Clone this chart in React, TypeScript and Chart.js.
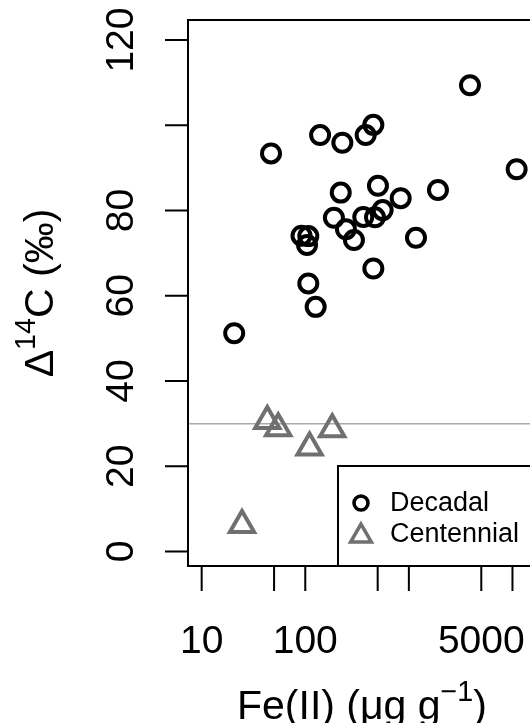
import React, { useEffect, useRef } from "react";
import { Chart, registerables } from "chart.js";

Chart.register(...registerables);

// ---- data ----
const decadalFe = [3890, 46.7, 139, 228, 383, 454, 10970, 220, 503, 834, 1909, 189, 363, 471, 558, 247, 295, 1171, 92, 107, 104, 454, 107, 126, 20.6];
const decadalD14C = [109.4, 93.4, 97.7, 95.9, 97.7, 100.1, 89.7, 84.2, 85.8, 82.9, 84.8, 78.3, 78.5, 78.4, 80.1, 75.6, 73.1, 73.6, 74.1, 74.0, 71.9, 66.4, 62.9, 57.4, 51.2];
const centennialFe = [43, 54.8, 110, 182, 24.5];
const centennialD14C = [30.6, 28.9, 24.4, 28.7, 6.2];

const xTickValues = [10, 50, 100, 500, 1000, 5000, 10000];
const xTickLabels = [10, 100, 5000];
const yTickValues = [0, 20, 40, 60, 80, 100, 120];
const yTickLabels = [0, 20, 40, 60, 80, 120];
const refLine = 30;

const seriesNames = ["Decadal", "Centennial"];
const xTitle = [{ t: "Fe(II) (\u03bcg g" }, { t: "\u22121", sup: true }, { t: ")" }];
const yTitle = [{ t: "\u0394" }, { t: "14", sup: true }, { t: "C (\u2030)" }];

const FONT = '"Liberation Sans", Arial, Helvetica, sans-serif';
const W = 560;
const H = 723;
const AREA = { left: 188, top: 20, right: 536, bottom: 566 };

type Part = { t: string; sup?: boolean };

function drawRich(ctx: CanvasRenderingContext2D, parts: Part[], cx: number, baseline: number, size: number) {
  const supSize = size * 0.7;
  let total = 0;
  const widths = parts.map((p) => {
    ctx.font = `${p.sup ? supSize : size}px ${FONT}`;
    const w = ctx.measureText(p.t).width;
    total += w;
    return w;
  });
  let x = cx - total / 2;
  ctx.textAlign = "left";
  ctx.textBaseline = "alphabetic";
  parts.forEach((p, i) => {
    ctx.font = `${p.sup ? supSize : size}px ${FONT}`;
    ctx.fillText(p.t, x, p.sup ? baseline - size * 0.45 : baseline);
    x += widths[i];
  });
}

function triPath(ctx: CanvasRenderingContext2D, x: number, y: number, r: number) {
  const a = (2 * Math.PI) / 3;
  ctx.beginPath();
  ctx.moveTo(x, y - r);
  ctx.lineTo(x + Math.sin(a) * r, y - Math.cos(a) * r);
  ctx.lineTo(x + Math.sin(2 * a) * r, y - Math.cos(2 * a) * r);
  ctx.closePath();
}

const decor = {
  id: "decor",
  beforeDatasetsDraw(chart: any) {
    const { ctx, chartArea: a, scales } = chart;
    const yy = scales.y.getPixelForValue(refLine);
    ctx.save();
    ctx.strokeStyle = "#aaaaaa";
    ctx.lineWidth = 1.5;
    ctx.beginPath();
    ctx.moveTo(a.left, yy);
    ctx.lineTo(a.right, yy);
    ctx.stroke();
    ctx.restore();
  },
  afterDatasetsDraw(chart: any) {
    const { ctx, chartArea: a, scales } = chart;
    const xs = scales.x;
    const ys = scales.y;
    ctx.save();
    ctx.strokeStyle = "#000";
    ctx.fillStyle = "#000";
    ctx.lineWidth = 2;
    ctx.strokeRect(a.left, a.top, a.right - a.left, a.bottom - a.top);

    // x ticks
    ctx.beginPath();
    xTickValues.forEach((v) => {
      const px = xs.getPixelForValue(v);
      ctx.moveTo(px, a.bottom);
      ctx.lineTo(px, a.bottom + 25);
    });
    ctx.stroke();
    ctx.font = `39px ${FONT}`;
    ctx.textAlign = "center";
    ctx.textBaseline = "alphabetic";
    xTickLabels.forEach((v) => {
      ctx.fillText(String(v), xs.getPixelForValue(v), 653);
    });

    // y ticks
    ctx.beginPath();
    yTickValues.forEach((v) => {
      const py = ys.getPixelForValue(v);
      ctx.moveTo(a.left - 23, py);
      ctx.lineTo(a.left, py);
    });
    ctx.stroke();
    yTickLabels.forEach((v) => {
      const py = ys.getPixelForValue(v);
      ctx.save();
      ctx.translate(133, py);
      ctx.rotate(-Math.PI / 2);
      ctx.font = `39px ${FONT}`;
      ctx.textAlign = "center";
      ctx.textBaseline = "alphabetic";
      ctx.fillText(String(v), 0, 0);
      ctx.restore();
    });

    // titles
    drawRich(ctx, xTitle, (a.left + a.right) / 2, 719, 41);
    ctx.save();
    ctx.translate(53, (a.top + a.bottom) / 2);
    ctx.rotate(-Math.PI / 2);
    drawRich(ctx, yTitle, 0, 0, 41);
    ctx.restore();

    // legend
    const lx = 338;
    const ly = 466;
    ctx.fillStyle = "#fff";
    ctx.fillRect(lx, ly, a.right - lx, a.bottom - ly);
    ctx.strokeStyle = "#000";
    ctx.lineWidth = 2;
    ctx.strokeRect(lx, ly, a.right - lx, a.bottom - ly);
    ctx.lineWidth = 3.5;
    ctx.beginPath();
    ctx.arc(361, 503, 7, 0, Math.PI * 2);
    ctx.stroke();
    ctx.strokeStyle = "#707070";
    triPath(ctx, 361, 536, 12);
    ctx.stroke();
    ctx.fillStyle = "#000";
    ctx.font = `27px ${FONT}`;
    ctx.textAlign = "left";
    ctx.textBaseline = "middle";
    ctx.fillText(seriesNames[0], 390, 504);
    ctx.fillText(seriesNames[1], 390, 535);
    ctx.restore();
  },
};

export default function App() {
  const ref = useRef<HTMLCanvasElement>(null);
  useEffect(() => {
    const canvas = ref.current!;
    const chart = new Chart(canvas, {
      type: "scatter",
      data: {
        datasets: [
          {
            label: seriesNames[0],
            data: decadalFe.map((x, i) => ({ x, y: decadalD14C[i] })),
            pointStyle: "circle",
            pointRadius: 9,
            pointBorderWidth: 4,
            borderColor: "#000",
            backgroundColor: "rgba(0,0,0,0)",
            pointBackgroundColor: "rgba(0,0,0,0)",
            pointBorderColor: "#000",
          },
          {
            label: seriesNames[1],
            data: centennialFe.map((x, i) => ({ x, y: centennialD14C[i] })),
            pointStyle: "triangle",
            pointRadius: 14,
            pointBorderWidth: 4,
            borderColor: "#707070",
            backgroundColor: "rgba(0,0,0,0)",
            pointBackgroundColor: "rgba(0,0,0,0)",
            pointBorderColor: "#707070",
          },
        ],
      },
      options: {
        animation: false,
        responsive: false,
        devicePixelRatio: 1,
        layout: {
          padding: (c: any) => ({
            left: AREA.left,
            top: AREA.top,
            right: c.chart.width - AREA.right,
            bottom: c.chart.height - AREA.bottom,
          }),
        },
        scales: {
          x: { type: "logarithmic", min: 7.38, max: 16870, bounds: "data", display: false },
          y: { type: "linear", min: -3.4, max: 124.7, bounds: "data", display: false },
        },
        plugins: { legend: { display: false }, tooltip: { enabled: false } },
        elements: { point: { hoverRadius: 9 } },
      },
      plugins: [decor],
    });
    return () => chart.destroy();
  }, []);
  return (
    <div style={{ position: "fixed", left: 0, top: 0, width: W, height: H, overflow: "hidden", background: "#fff" }}>
      <canvas ref={ref} width={W} height={H} style={{ display: "block", width: W, height: H }} />
    </div>
  );
}
